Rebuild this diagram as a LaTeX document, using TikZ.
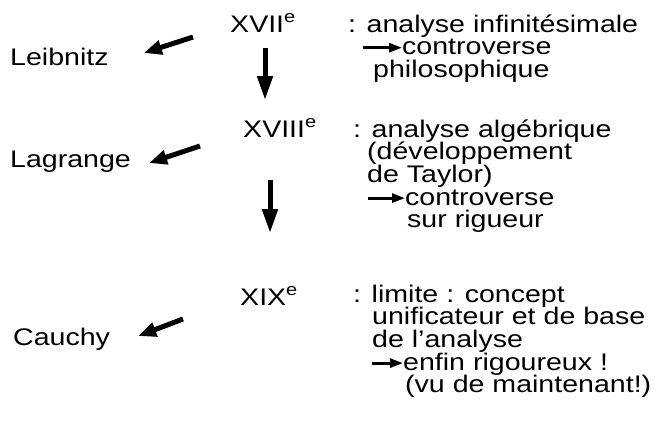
\documentclass[tikz,border=0pt]{standalone}
\usepackage{fontspec}
\setmainfont{Liberation Sans}[FakeStretch=1.19]
\usetikzlibrary{arrows.meta}

\tikzset{
  txt/.style={inner sep=0pt, anchor=base west, font=\fontsize{24pt}{22.7pt}\selectfont},
  diagarrow/.style={line width=5pt, -{Triangle[length=18pt,width=14pt]}},
  downarrow/.style={line width=5pt, -{Triangle[length=24pt,width=15pt]}},
  smallarrow/.style={line width=2.8pt, -{Triangle[length=13pt,width=9pt]}}
}
\newcommand{\cent}[1]{#1\textsuperscript{e}}

\begin{document}
\begin{tikzpicture}[x=1pt,y=1pt]
  \useasboundingbox (0,0) rectangle (664,-429);

  % centuries and mathematicians
  \node[txt] (c17) at (230,-32)  {\cent{XVII}};
  \node[txt] (c18) at (243,-137) {\cent{XVIII}};
  \node[txt] (c19) at (240,-305) {\cent{XIX}};
  \node[txt] (leib) at (10,-65)  {Leibnitz};
  \node[txt] (lag)  at (10,-167) {Lagrange};
  \node[txt] (cau)  at (13,-345) {Cauchy};

  % century -> mathematician
  \draw[diagarrow] ([shift={(-37,-5)}]c17.base west) -- ([shift={(35,12)}]leib.base east);
  \draw[diagarrow] ([shift={(-43,-9)}]c18.base west) -- ([shift={(18,4)}]lag.base east);
  \draw[diagarrow] ([shift={(-57,-14)}]c19.base west) -- ([shift={(28,9)}]cau.base east);

  % century -> next century
  \draw[downarrow] ([shift={(35,-16)}]c17.base west) -- ([shift={(22,37)}]c18.base west);
  \draw[downarrow] ([shift={(27,-43)}]c18.base west) -- ([shift={(30,72)}]c19.base west);

  % XVII
  \node[txt] (a1) at (348,-32)   {: analyse infinitésimale};
  \node[txt] (a2) at (402,-54.7) {controverse};
  \node[txt] (a3) at (373,-77.4) {philosophique};
  \coordinate (p1) at (363,-47.7);
  \draw[smallarrow] (p1) -- ([yshift=7pt]a2.base west);

  % XVIII
  \node[txt] (b1) at (353,-137)   {: analyse algébrique};
  \node[txt] (b2) at (367,-159.7) {(développement};
  \node[txt] (b3) at (367,-182.4) {de Taylor)};
  \node[txt] (b4) at (405,-205.1) {controverse};
  \node[txt] (b5) at (407,-227.8) {sur rigueur};
  \coordinate (p2) at (368,-198.1);
  \draw[smallarrow] (p2) -- ([yshift=7pt]b4.base west);

  % XIX
  \node[txt] (d1) at (353,-302)   {: limite : concept};
  \node[txt] (d2) at (372,-324.7) {unificateur et de base};
  \node[txt] (d3) at (372,-347.4) {de l’analyse};
  \node[txt] (d4) at (403,-370.1) {enfin rigoureux !};
  \node[txt] (d5) at (405,-392.8) {(vu de maintenant!)};
  \coordinate (p3) at (372,-363.1);
  \draw[smallarrow] (p3) -- ([yshift=7pt]d4.base west);
\end{tikzpicture}
\end{document}
